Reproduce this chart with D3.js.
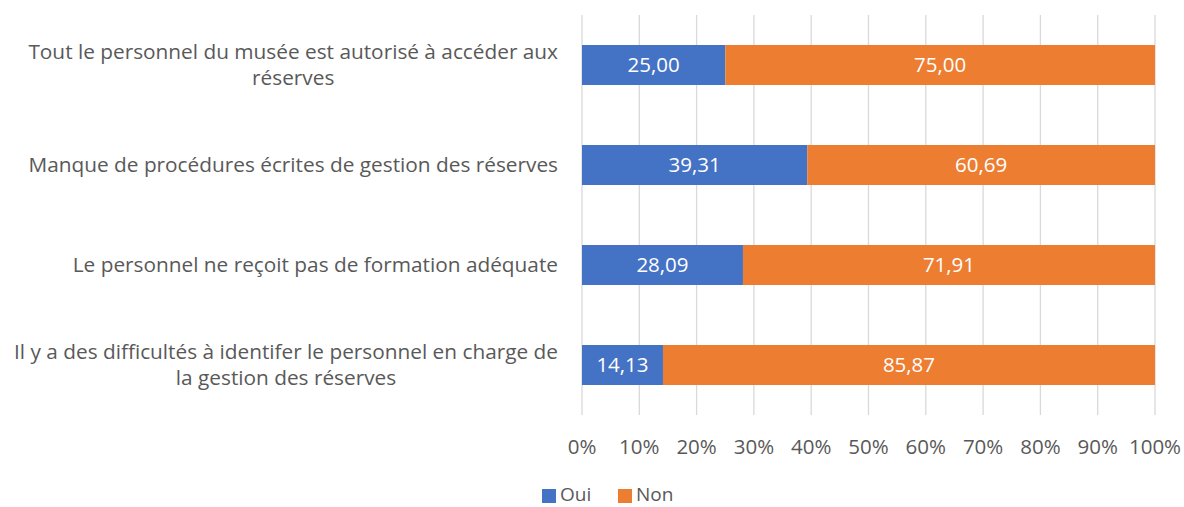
<!DOCTYPE html>
<html>
<head>
<meta charset="utf-8">
<script src="https://cdn.jsdelivr.net/npm/d3@7/dist/d3.min.js"></script>
<style>
  html, body { margin: 0; padding: 0; background: #fff; }
  svg { display: block; font-family: "Open Sans", sans-serif; }
</style>
</head>
<body>
<svg id="chart" width="1184" height="507"></svg>
<script>
// Categories, top to bottom; each label is split into its displayed lines
const categories = [
  ["Tout le personnel du musée est autorisé à accéder aux", "réserves"],
  ["Manque de procédures écrites de gestion des réserves"],
  ["Le personnel ne reçoit pas de formation adéquate"],
  ["Il y a des difficultés à identifer le personnel en charge de", "la gestion des réserves"]
];
const oui = [25.00, 39.31, 28.09, 14.13];
const non = [75.00, 60.69, 71.91, 85.87];
const seriesNames = ["Oui", "Non"];
const seriesColors = ["#4472C4", "#ED7D31"];
const tickValues = [0, 10, 20, 30, 40, 50, 60, 70, 80, 90, 100];

const svg = d3.select("#chart");
const plot = { left: 582, right: 1155, top: 15, bottom: 415 };
const textColor = "#595959";
const fontSize = 20.5;

const x = d3.scaleLinear().domain([0, 100]).range([plot.left, plot.right]);
const y = d3.scaleBand().domain(d3.range(categories.length))
  .range([plot.top, plot.bottom]).paddingInner(0.6).paddingOuter(0.3);

// Vertical gridlines
svg.append("g").selectAll("line").data(tickValues).join("line")
  .attr("x1", d => x(d)).attr("x2", d => x(d))
  .attr("y1", plot.top).attr("y2", plot.bottom)
  .attr("stroke", "#D9D9D9").attr("stroke-width", 1.3);

// Stacked bars
const rows = categories.map((c, i) => ({ i, values: [oui[i], non[i]] }));
const segs = [];
rows.forEach(r => {
  let acc = 0;
  r.values.forEach((v, s) => { segs.push({ i: r.i, s, x0: acc, x1: acc + v, v }); acc += v; });
});

svg.append("g").selectAll("rect").data(segs).join("rect")
  .attr("x", d => x(d.x0)).attr("width", d => x(d.x1) - x(d.x0))
  .attr("y", d => y(d.i)).attr("height", y.bandwidth())
  .attr("fill", d => seriesColors[d.s]);

// Value labels
const fmt = v => v.toFixed(2).replace(".", ",");
svg.append("g").selectAll("text").data(segs).join("text")
  .attr("x", d => (x(d.x0) + x(d.x1)) / 2)
  .attr("y", d => y(d.i) + y.bandwidth() / 2)
  .attr("dy", "0.35em").attr("text-anchor", "middle")
  .attr("fill", "#fff").attr("font-size", fontSize)
  .text(d => fmt(d.v));

// X axis tick labels
svg.append("g").selectAll("text").data(tickValues).join("text")
  .attr("x", d => x(d)).attr("y", 447).attr("dy", "0.35em")
  .attr("text-anchor", "middle").attr("fill", textColor).attr("font-size", fontSize)
  .text(d => d + "%");

// Category labels: lines centered on each other, right edge near the axis
const labelRight = 558, lineGap = 26;
categories.forEach((lines, i) => {
  const g = svg.append("g");
  const cy = y(i) + y.bandwidth() / 2;
  const texts = lines.map((ln, k) => g.append("text")
    .attr("y", cy + (k - (lines.length - 1) / 2) * lineGap)
    .attr("dy", "0.35em").attr("text-anchor", "middle")
    .attr("fill", textColor).attr("font-size", 20.8).text(ln));
  const maxW = d3.max(texts, t => t.node().getComputedTextLength());
  texts.forEach(t => t.attr("x", labelRight - maxW / 2));
});

// Legend
const legend = svg.append("g");
const legendX = [542, 618];
seriesNames.forEach((n, s) => {
  legend.append("rect").attr("x", legendX[s]).attr("y", 489)
    .attr("width", 14).attr("height", 14).attr("fill", seriesColors[s]);
  legend.append("text").attr("x", legendX[s] + 18).attr("y", 501)
    .attr("fill", textColor).attr("font-size", 19).text(n);
});
</script>
</body>
</html>
